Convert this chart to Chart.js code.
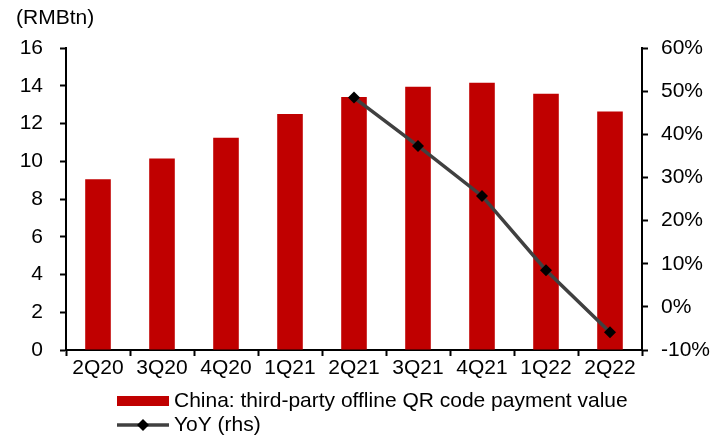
<!DOCTYPE html>
<html>
<head>
<meta charset="utf-8">
<script src="https://cdn.jsdelivr.net/npm/chart.js@4.4.1/dist/chart.umd.min.js"></script>
<style>
  html, body { margin: 0; padding: 0; background: #fff; }
  #wrap { width: 722px; height: 436px; position: relative; }
</style>
</head>
<body>
<div id="wrap"><canvas id="c" width="722" height="436"></canvas></div>
<script>
// Quarterly third-party offline QR code payment value in China
const quarters = ['2Q20', '3Q20', '4Q20', '1Q21', '2Q21', '3Q21', '4Q21', '1Q22', '2Q22'];
const paymentValue = [9.04, 10.15, 11.25, 12.50, 13.40, 13.95, 14.16, 13.58, 12.63];   // RMB tn
const yoyGrowth = [null, null, null, null, 48.5, 37.3, 25.7, 8.5, -5.9];              // %
const leftTicks = [0, 2, 4, 6, 8, 10, 12, 14, 16];
const rightTicks = [-10, 0, 10, 20, 30, 40, 50, 60];

const barLabel = 'China: third-party offline QR code payment value';
const lineLabel = 'YoY (rhs)';
const unitLabel = '(RMBtn)';

const FONT = '"Liberation Sans", Arial, sans-serif';
const FONT_SIZE = 21;
const RED = '#C00000';
const GREY = '#404040';

Chart.defaults.font.family = FONT;
Chart.defaults.font.size = FONT_SIZE;
Chart.defaults.color = '#000';

// Unit caption above the left axis and the two-row legend below the chart
const decorations = {
  id: 'decorations',
  afterDraw(chart) {
    const ctx = chart.ctx;
    const ds = chart.data.datasets;
    ctx.save();
    ctx.font = FONT_SIZE + 'px ' + FONT;
    ctx.fillStyle = '#000';
    ctx.textBaseline = 'middle';
    ctx.textAlign = 'left';
    ctx.fillText(unitLabel, 16, 18);

    const x0 = 117, x1 = 169, tx = 174;
    const y1 = 401, y2 = 425;
    // bar entry
    ctx.fillStyle = ds[0].backgroundColor;
    ctx.fillRect(x0, y1 - 5, x1 - x0, 10);
    ctx.fillStyle = '#000';
    ctx.fillText(ds[0].label, tx, y1);
    // line entry
    ctx.strokeStyle = ds[1].borderColor;
    ctx.lineWidth = 3.5;
    ctx.beginPath();
    ctx.moveTo(x0, y2);
    ctx.lineTo(x1, y2);
    ctx.stroke();
    const cx = (x0 + x1) / 2, r = 6;
    ctx.fillStyle = ds[1].pointBackgroundColor;
    ctx.beginPath();
    ctx.moveTo(cx, y2 - r);
    ctx.lineTo(cx + r, y2);
    ctx.lineTo(cx, y2 + r);
    ctx.lineTo(cx - r, y2);
    ctx.closePath();
    ctx.fill();
    ctx.fillStyle = '#000';
    ctx.fillText(ds[1].label, tx, y2);
    ctx.restore();
  }
};

new Chart(document.getElementById('c'), {
  type: 'bar',
  data: {
    labels: quarters,
    datasets: [
      {
        type: 'bar',
        label: barLabel,
        data: paymentValue,
        backgroundColor: RED,
        borderWidth: 0,
        categoryPercentage: 1,
        barPercentage: 0.4,
        yAxisID: 'y',
        order: 1
      },
      {
        type: 'line',
        label: lineLabel,
        data: yoyGrowth,
        borderColor: GREY,
        borderWidth: 3.5,
        tension: 0,
        pointStyle: 'rectRot',
        pointRadius: 6,
        pointBackgroundColor: '#000',
        pointBorderColor: '#000',
        pointBorderWidth: 0,
        yAxisID: 'y1',
        order: 0
      }
    ]
  },
  options: {
    responsive: false,
    animation: false,
    layout: { padding: { top: 48, bottom: 50, left: 0, right: 0 } },
    plugins: {
      legend: { display: false },
      tooltip: { enabled: false }
    },
    scales: {
      x: {
        offset: true,
        grid: {
          offset: true,
          drawOnChartArea: false,
          drawTicks: true,
          tickLength: 6,
          tickWidth: 2,
          tickColor: '#000'
        },
        border: { color: '#000', width: 2 },
        ticks: { padding: 0, maxRotation: 0, autoSkip: false },
        afterFit(s) { s.height = 36; }
      },
      y: {
        position: 'left',
        min: 0,
        max: 16,
        afterBuildTicks(s) { s.ticks = leftTicks.map(v => ({ value: v })); },
        grid: {
          drawOnChartArea: false,
          tickLength: 6,
          tickWidth: 2,
          tickColor: '#000'
        },
        border: { color: '#000', width: 2 },
        ticks: { padding: 17 },
        afterFit(s) { s.width = 66; }
      },
      y1: {
        position: 'right',
        min: -10,
        max: 60,
        afterBuildTicks(s) { s.ticks = rightTicks.map(v => ({ value: v })); },
        grid: {
          drawOnChartArea: false,
          tickLength: 6,
          tickWidth: 2,
          tickColor: '#000'
        },
        border: { color: '#000', width: 2 },
        ticks: { padding: 13, callback: v => v + '%' },
        afterFit(s) { s.width = 80; }
      }
    }
  },
  plugins: [decorations]
});
</script>
</body>
</html>
